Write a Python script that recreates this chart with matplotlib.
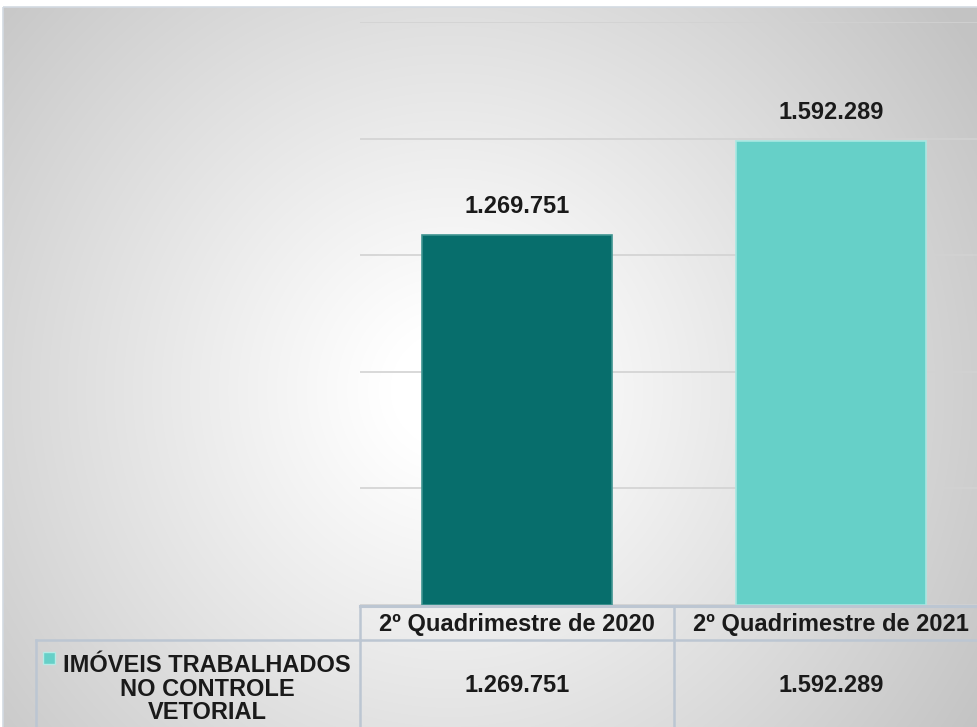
import numpy as np
import matplotlib
matplotlib.use("Agg")
import matplotlib.pyplot as plt
from matplotlib.transforms import blended_transform_factory
from matplotlib.patches import Rectangle

# data
categories = ["2º Quadrimestre de 2020", "2º Quadrimestre de 2021"]
values = [1269751, 1592289]
series_name = "IMÓVEIS TRABALHADOS\nNO CONTROLE\nVETORIAL"
bar_colors = ["#076e6c", "#66d0c8"]
edge_colors = ["#3f9491", "#a8e8e2"]

plt.rcParams['font.family'] = ['Liberation Sans', 'DejaVu Sans']
TXT = "#1a1a1a"
LINE = "#bcc6d2"

def fmt(v):
    return f"{v:,}".replace(",", ".")

W, H = 978, 727
fig = plt.figure(figsize=(W / 100, H / 100), dpi=100)
fig.patch.set_facecolor("white")

# background axes in pixel coords
bg = fig.add_axes([0, 0, 1, 1])
bg.set_xlim(0, W)
bg.set_ylim(H, 0)
bg.axis("off")

# radial gradient fill
yy, xx = np.mgrid[7:H, 3:W]
r = np.hypot(xx - 450, yy - 390)
t = np.clip((r - 60) / 570, 0, 1)
shade = 1 - 0.235 * t ** 1.05
img = np.dstack([shade, shade, shade])
bg.imshow(img, extent=(3, W, H, 7), aspect="auto", zorder=0, interpolation="bilinear")
bg.add_patch(Rectangle((3, 7), W, H, fill=False, edgecolor="#d3dae2", lw=1.2, zorder=1))

# plot area
left, right, top, base = 360, 988, 22, 605
ax = fig.add_axes([left / W, 1 - base / H, (right - left) / W, (base - top) / H])
ax.set_facecolor("none")
x = np.arange(len(categories))
ax.set_xlim(-0.5, len(categories) - 0.5)
ax.set_ylim(0, 2000000)
ax.set_yticks(np.arange(0, 2000001, 400000))
ax.yaxis.grid(True, color="#d2d2d2", lw=1.2)
ax.set_axisbelow(True)
ax.tick_params(left=False, bottom=False, labelleft=False, labelbottom=False)
for s in ax.spines.values():
    s.set_visible(False)

bars = ax.bar(x, values, width=0.605, color=bar_colors, edgecolor=edge_colors, lw=1.2, zorder=3)
ax.bar_label(bars, labels=[fmt(v) for v in values], padding=12,
             fontsize=17, fontweight="bold", color=TXT)

# data table below the plot
tr = blended_transform_factory(ax.transData, bg.transData)
hdr_top, row_top, bottom = 606, 640, H
lo, hi = -0.5, len(categories) - 0.5
kw = dict(color=LINE, clip_on=False, zorder=4)
ax.plot([lo, hi], [hdr_top, hdr_top], transform=tr, lw=2.2, **kw)
ax.plot([lo, hi], [row_top, row_top], transform=tr, lw=1.8, **kw)
for b in np.arange(lo, hi + 0.01, 1.0):
    ax.plot([b, b], [hdr_top, bottom], transform=tr, lw=1.8, **kw)
bg.plot([36, left], [row_top, row_top], lw=1.8, **kw)
bg.plot([36, 36], [row_top, bottom], lw=1.8, **kw)

for xi, cat, v in zip(x, categories, values):
    ax.text(xi, (hdr_top + row_top) / 2 + 1, cat, transform=tr, ha="center", va="center",
            fontsize=17, fontweight="bold", color=TXT, clip_on=False)
    ax.text(xi, 685, fmt(v), transform=tr, ha="center", va="center",
            fontsize=17, fontweight="bold", color=TXT, clip_on=False)

# series label with legend key
bg.add_patch(Rectangle((43, 652), 12, 12, facecolor=bar_colors[1], edgecolor="#b5ebe6", lw=1, zorder=5))
bg.text(207, 689, series_name, ha="center", va="center", fontsize=17, fontweight="bold",
        color=TXT, linespacing=1.02, zorder=5)

fig.savefig("out.png", dpi=100)
